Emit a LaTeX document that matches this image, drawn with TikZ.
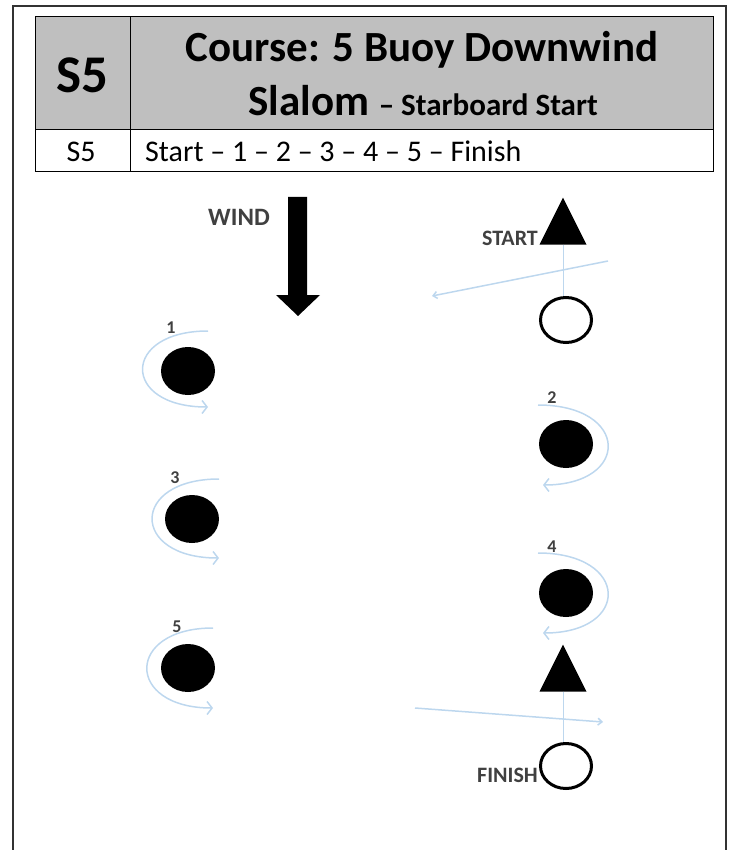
\documentclass[tikz,border=0pt]{standalone}
\usepackage{fontspec}
\setmainfont{Carlito}
\usetikzlibrary{shapes.geometric, arrows.meta, positioning}
\definecolor{headgray}{RGB}{191, 191, 191}
\definecolor{pathblue}{RGB}{189, 215, 238}
\definecolor{labelgray}{RGB}{64, 64, 64}

\begin{document}
\begin{tikzpicture}[
    x=1pt, y=-1pt,
    cell/.style={inner sep=0pt, anchor=base},
    buoy/.style={ellipse, fill=black, minimum width=54pt, minimum height=48pt, inner sep=0pt},
    ring/.style={ellipse, draw=black, line width=3pt, minimum width=51pt, minimum height=45pt, inner sep=0pt},
    flag/.style={isosceles triangle, isosceles triangle stretches, shape border rotate=90, fill=black, minimum width=47pt, minimum height=47pt, inner sep=0pt, anchor=apex},
    num/.style={font=\fontsize{18}{20}\selectfont\bfseries, text=labelgray, inner sep=0pt},
    tag/.style={font=\fontsize{22}{24}\selectfont\bfseries, text=labelgray, inner sep=0pt},
    track/.style={pathblue, line width=1.5pt},
    rounding/.style={track, -{Straight Barb[length=5pt, width=13pt]}},
    gate/.style={track, -{Straight Barb[length=4pt, width=7pt]}}
]
\useasboundingbox (0,0) rectangle (739,850);

\draw[line width=1.2pt, black!80] (13,6) rectangle (726,880);

\draw[fill=headgray, line width=1pt] (35,17) rectangle (713,130);
\draw[line width=1pt] (35,130) rectangle (713,172);
\draw[line width=1pt] (130,17) -- (130,172);

\node[cell, font=\fontsize{53}{53}\selectfont\bfseries] (code) at (82,93) {S5};
\node[cell, font=\fontsize{43}{43}\selectfont\bfseries] (title) at (422,62) {Course: 5 Buoy Downwind};
\node[cell, font=\bfseries] (subtitle) at (423,116) {\fontsize{43}{43}\selectfont Slalom \fontsize{31}{31}\selectfont -- Starboard Start};
\node[cell, font=\fontsize{30}{30}\selectfont] (rowcode) at (81,162) {S5};
\node[cell, anchor=base west, font=\fontsize{30}{30}\selectfont] (route) at (145,162) {Start -- 1 -- 2 -- 3 -- 4 -- 5 -- Finish};

\node[tag, font=\fontsize{25}{27}\selectfont\bfseries] (wind) at (239,217) {WIND};
\fill (288,197) -- (307,197) -- (307,295) -- (320,295) -- (298,316) -- (276,295) -- (288,295) -- cycle;

\node[buoy] (m1) at (188,371) {};
\node[buoy] (m2) at (566,444) {};
\node[buoy] (m3) at (192,519) {};
\node[buoy] (m4) at (566,593) {};
\node[buoy] (m5) at (188,668) {};

\node[num] (n1) at (171,328) {1};
\node[num] (n2) at (552,398) {2};
\node[num] (n3) at (175,478) {3};
\node[num] (n4) at (552,547) {4};
\node[num] (n5) at (177,627) {5};

\draw[rounding] ([shift={(20,-40)}]m1.center) .. controls +(-87,0) and +(-87,0) .. ([shift={(20,36)}]m1.center);
\draw[rounding] ([shift={(-28,-39)}]m2.center) .. controls +(92,0) and +(88,0) .. ([shift={(-23,41)}]m2.center);
\draw[rounding] ([shift={(27,-40)}]m3.center) .. controls +(-89,0) and +(-89,0) .. ([shift={(27,39)}]m3.center);
\draw[rounding] ([shift={(-28,-40)}]m4.center) .. controls +(92,0) and +(88,0) .. ([shift={(-23,40)}]m4.center);
\draw[rounding] ([shift={(25,-40)}]m5.center) .. controls +(-88,0) and +(-88,0) .. ([shift={(25,40)}]m5.center);

\node[flag] (sflag) at (563,197) {};
\node[ring] (sring) at (566,320) {};
\node[tag, anchor=east] (stext) at (538,238) {START};
\draw[track, line width=1pt] (sflag.lower side) -- (sflag.lower side |- sring.north);
\coordinate (sg1) at (608,261);
\coordinate (sg2) at (432,296);
\draw[gate] (sg1) -- (sg2);

\node[flag] (fflag) at (563,644) {};
\node[ring] (fring) at (566,766) {};
\node[tag, anchor=east] (ftext) at (538,775) {FINISH};
\draw[track, line width=1pt] (fflag.lower side) -- (fflag.lower side |- fring.north);
\coordinate (fg1) at (415,708);
\coordinate (fg2) at (603,722);
\draw[gate] (fg1) -- (fg2);

\end{tikzpicture}
\end{document}
